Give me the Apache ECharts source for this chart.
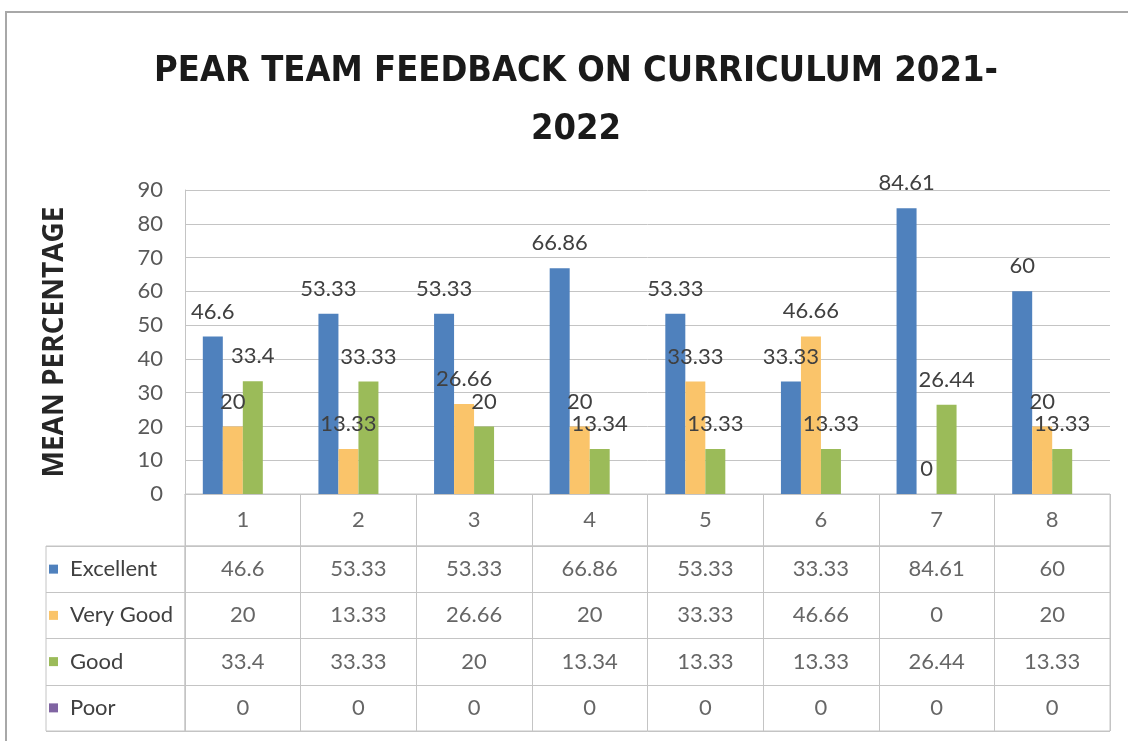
<!DOCTYPE html>
<html>
<head>
<meta charset="utf-8">
<script src="https://cdn.jsdelivr.net/npm/echarts@6/dist/echarts.min.js"></script>
<style>
html,body{margin:0;padding:0;background:#fff;}
#chart{width:1128px;height:741px;}
</style>
</head>
<body>
<div id="chart"></div>
<script>
// ---- data ----
const categories = ['1', '2', '3', '4', '5', '6', '7', '8'];
const seriesNames = ['Excellent', 'Very Good', 'Good', 'Poor'];
const excellent = [46.6, 53.33, 53.33, 66.86, 53.33, 33.33, 84.61, 60];
const veryGood = [20, 13.33, 26.66, 20, 33.33, 46.66, 0, 20];
const good = [33.4, 33.33, 20, 13.34, 13.33, 13.33, 26.44, 13.33];
const poor = [0, 0, 0, 0, 0, 0, 0, 0];
const yMin = 0, yMax = 90, yStep = 10;
const titleText = 'PEAR TEAM FEEDBACK ON CURRICULUM 2021-\n2022';
const yName = 'MEAN PERCENTAGE';

// ---- styling ----
const colors = ['#4f81bd', '#fac46a', '#9bbb59', '#8064a2'];
const textColor = '#404040';
const lineColor = '#c4c4c4';
const bodyFont = 'Lato';

const allValues = [excellent, veryGood, good, poor];

const chart = echarts.init(document.getElementById('chart'), null, {renderer: 'canvas'});

const barSeries = allValues.map((vals, si) => ({
  name: seriesNames[si],
  type: 'bar',
  xAxisIndex: 0, yAxisIndex: 0,
  data: vals,
  barWidth: 20,
  barGap: '0%',
  itemStyle: {color: colors[si]},
  label: {
    show: si < 3,
    position: 'top',
    distance: 14,
    color: textColor,
    fontSize: 22,
    fontFamily: bodyFont
  },
  silent: true
}));

// table header: category numbers
const headerSeries = {
  type: 'scatter',
  xAxisIndex: 1, yAxisIndex: 1,
  symbolSize: 1,
  itemStyle: {color: 'rgba(0,0,0,0)'},
  data: categories.map((c, i) => [i, 0, c]),
  label: {
    show: true, position: 'inside',
    formatter: p => p.value[2],
    color: textColor, fontSize: 22, fontFamily: bodyFont
  },
  silent: true
};

const cellData = [];
allValues.forEach((vals, r) => vals.forEach((v, i) => cellData.push([i, r, v])));
const bodySeries = {
  type: 'scatter',
  xAxisIndex: 2, yAxisIndex: 2,
  symbolSize: 1,
  itemStyle: {color: 'rgba(0,0,0,0)'},
  data: cellData,
  label: {
    show: true, position: 'inside',
    formatter: p => String(p.value[2]),
    color: textColor, fontSize: 22, fontFamily: bodyFont
  },
  silent: true
};

const rich = {t: {fontSize: 22, fontFamily: bodyFont, color: textColor, padding: [0, 0, 0, 12]}};
colors.forEach((c, i) => { rich['k' + i] = {width: 9, height: 9, backgroundColor: c}; });

const tableGridStyle = {show: true, borderColor: lineColor, borderWidth: 1, backgroundColor: 'transparent'};

const option = {
  animation: false,
  backgroundColor: '#ffffff',
  title: {
    text: titleText,
    left: 576,
    top: 43,
    padding: 0,
    textAlign: 'center',
    textStyle: {
      fontFamily: 'DejaVu Sans Condensed',
      fontWeight: 'bold',
      fontSize: 36,
      lineHeight: 58,
      color: '#1a1a1a'
    }
  },
  graphic: [{
    type: 'rect',
    shape: {x: 6, y: 12, width: 1140, height: 760},
    style: {fill: 'none', stroke: '#a8a8a8', lineWidth: 2},
    silent: true, z: -10
  }],
  grid: [
    {left: 185, right: 18, top: 190, height: 304},
    Object.assign({left: 185, right: 18, top: 494, height: 52}, tableGridStyle),
    Object.assign({left: 185, right: 18, top: 546, height: 185}, tableGridStyle),
    Object.assign({left: 46, width: 139, top: 546, height: 185}, tableGridStyle)
  ],
  xAxis: [
    {
      gridIndex: 0, type: 'category', data: categories,
      axisLine: {show: true, lineStyle: {color: lineColor}},
      axisTick: {show: false}, axisLabel: {show: false}
    },
    {
      gridIndex: 1, type: 'category', data: categories,
      axisLine: {show: false}, axisTick: {show: false}, axisLabel: {show: false},
      splitLine: {show: true, lineStyle: {color: lineColor}}
    },
    {
      gridIndex: 2, type: 'category', data: categories,
      axisLine: {show: false}, axisTick: {show: false}, axisLabel: {show: false},
      splitLine: {show: true, lineStyle: {color: lineColor}}
    },
    {
      gridIndex: 3, type: 'category', data: ['legend'],
      axisLine: {show: false}, axisTick: {show: false}, axisLabel: {show: false},
      splitLine: {show: false}
    }
  ],
  yAxis: [
    {
      gridIndex: 0, type: 'value', min: yMin, max: yMax, interval: yStep,
      name: yName, nameLocation: 'middle', nameGap: 116, nameRotate: 90,
      nameTextStyle: {fontFamily: 'Open Sans', fontWeight: 'bold', fontSize: 28, color: '#262626'},
      axisLine: {show: true, lineStyle: {color: lineColor}},
      axisTick: {show: false},
      axisLabel: {color: '#595959', fontSize: 22, fontFamily: bodyFont, margin: 22},
      splitLine: {show: true, lineStyle: {color: lineColor}}
    },
    {
      gridIndex: 1, type: 'category', data: ['header'],
      axisLine: {show: false}, axisTick: {show: false}, axisLabel: {show: false},
      splitLine: {show: false}
    },
    {
      gridIndex: 2, type: 'category', data: seriesNames, inverse: true,
      axisLine: {show: false}, axisTick: {show: false},
      axisLabel: {
        show: true, align: 'left', margin: 136,
        formatter: (v, i) => '{k' + i + '|}{t|' + v + '}',
        rich: rich
      },
      splitLine: {show: true, lineStyle: {color: lineColor}}
    },
    {
      gridIndex: 3, type: 'category', data: seriesNames, inverse: true,
      axisLine: {show: false}, axisTick: {show: false}, axisLabel: {show: false},
      splitLine: {show: true, lineStyle: {color: lineColor}}
    }
  ],
  series: barSeries.concat([headerSeries, bodySeries])
};

chart.setOption(option);
</script>
</body>
</html>
